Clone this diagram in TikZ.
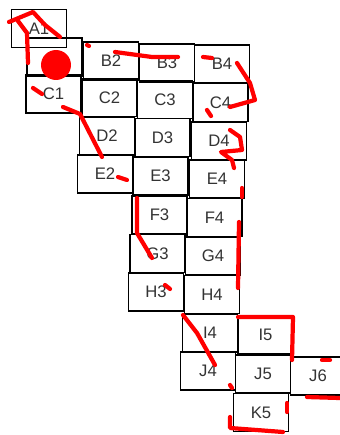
\documentclass[tikz,border=0pt]{standalone}
\usepackage{fontspec}
\setmainfont{Liberation Sans}
\begin{document}
\begin{tikzpicture}[x=0.02cm,y=-0.02cm,
	cell/.style={draw,line width=0.8pt,minimum width=1.1cm,minimum height=0.76cm,inner sep=0pt,font=\fontsize{9.5}{11}\selectfont,text=black!80},
	ink/.style={red,line width=2.4pt,line cap=round,line join=round}]
	\useasboundingbox (0,0) rectangle (340,435);
	% cells
	\node[cell] (A1) at (39,28.5) {A1};
	\node[cell] (B1) at (54.5,57) {};
	\node[cell] (B2) at (111,61) {B2};
	\node[cell] (B3) at (167,63) {B3};
	\node[cell] (B4) at (222,64) {B4};
	\node[cell] (C1) at (53.5,94) {C1};
	\node[cell] (C2) at (109.5,97.5) {C2};
	\node[cell] (C3) at (165,99.5) {C3};
	\node[cell] (C4) at (220.5,102.5) {C4};
	\node[cell] (D2) at (107,136) {D2};
	\node[cell] (D3) at (162.5,137.5) {D3};
	\node[cell] (D4) at (219,141) {D4};
	\node[cell] (E2) at (105,174) {E2};
	\node[cell] (E3) at (160.5,176) {E3};
	\node[cell] (E4) at (217,179) {E4};
	\node[cell] (F3) at (159.5,215) {F3};
	\node[cell] (F4) at (214.5,217.5) {F4};
	\node[cell] (G3) at (157.5,253.5) {G3};
	\node[cell] (G4) at (213,256) {G4};
	\node[cell] (H3) at (156,292) {H3};
	\node[cell] (H4) at (212,294.5) {H4};
	\node[cell] (I4) at (210,333) {I4};
	\node[cell] (I5) at (265.5,335) {I5};
	\node[cell] (J4) at (208,371) {J4};
	\node[cell] (J5) at (263,374) {J5};
	\node[cell] (J6) at (318,376) {J6};
	\node[cell] (K5) at (261,412.5) {K5};
	% red marks
	\fill[red] (56,65) circle (0.3cm);
	\draw[ink] (9,22) -- (33,12) -- (45,25) -- (60,37);
	\draw[ink] (18,21) -- (27,33) -- (28,63);
	\draw[ink] (87,45) -- (89,46);
	\draw[ink] (115,52) -- (152,57) -- (178,57);
	\draw[ink] (33,88) -- (42,94);
	\draw[ink] (63,107) -- (80,114) -- (102,157);
	\draw[ink] (203,57) -- (212,58);
	\draw[ink] (237,63) -- (250,83) -- (255,100) -- (230,107);
	\draw[ink] (207,110) -- (211,116);
	\draw[ink] (230,130) -- (240,137) -- (242,150) -- (221,152) -- (232,160) -- (234,168);
	\draw[ink] (118,177) -- (127,180);
	\draw[ink] (242,188) -- (242,197);
	\draw[ink] (137,198) -- (137,233) -- (152,258);
	\draw[ink] (165,285) -- (170,289);
	\draw[ink] (239,222) -- (238,288);
	\draw[ink] (183,315) -- (197,333) -- (215,365);
	\draw[ink] (238,317) -- (293,317) -- (292,360);
	\draw[ink] (230,385) -- (232,388);
	\draw[ink] (322,360) -- (330,360);
	\draw[ink] (307,397) -- (340,398);
	\draw[ink] (287,403) -- (287,412);
	\draw[ink] (230,417) -- (230,428) -- (283,432);
\end{tikzpicture}
\end{document}
